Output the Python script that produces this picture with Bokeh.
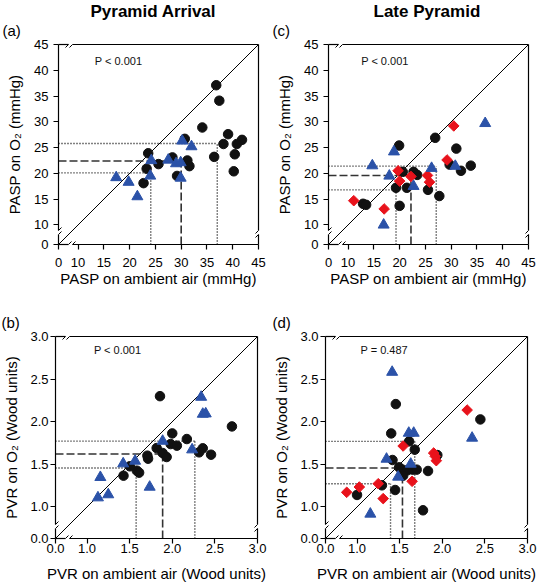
import math
from bokeh.plotting import figure
from bokeh.models import (Range1d, FixedTicker, CustomJSTickFormatter, LinearAxis, Label,
                          Arrow, Title)
from bokeh.layouts import row, column
from bokeh.embed import file_html
from bokeh.resources import INLINE

FONT = "Liberation Sans"

# ---------------- data ----------------
# PASP axes (mmHg): the "0" tick sits at the start of the broken axis
pasp_lo, pasp_hi = 6.2, 45.0
pasp_ticks = [6.2, 10, 15, 20, 25, 30, 35, 40, 45]
pvr_lo, pvr_hi = 0.63, 3.0
pvr_ticks = [0.63, 1.0, 1.5, 2.0, 2.5, 3.0]

# (a) Pyramid Arrival, PASP
a_circ_x = [36.8, 37.4, 34.1, 39.1, 30.7, 41.8, 38.2, 40.8, 23.6, 40.4, 36.4, 28.3, 31.2, 25.6, 31.6, 23.3, 40.2, 29.2, 22.7]
a_circ_y = [37.1, 34.1, 28.9, 27.6, 26.7, 26.5, 25.7, 25.7, 23.9, 23.7, 23.2, 23.1, 22.5, 21.8, 21.4, 20.9, 20.4, 19.5, 18.1]
a_tri_x = [17.4, 19.8, 21.5, 24.0, 24.2, 27.5, 29.0, 29.9, 29.9, 30.2, 32.0]
a_tri_y = [19.2, 18.3, 15.5, 19.5, 22.5, 22.6, 21.9, 22.1, 19.1, 26.3, 25.2]
a_dia_x, a_dia_y = [], []
a_med = (30.0, 22.4)
a_q1 = (24.1, 20.1)
a_q3 = (37.0, 25.8)

# (c) Late Pyramid, PASP
c_circ_x = [26.9, 19.9, 31.0, 29.7, 33.8, 31.9, 20.6, 22.7, 23.4, 19.3, 21.4, 25.5, 27.7, 12.9, 13.5, 20.0]
c_circ_y = [26.9, 25.4, 24.8, 21.7, 21.5, 20.5, 20.3, 20.3, 19.7, 17.2, 17.2, 16.8, 15.6, 14.1, 13.9, 13.7]
c_dia_x = [30.5, 29.2, 19.7, 20.0, 22.2, 25.4, 25.8, 11.1, 17.0]
c_dia_y = [29.2, 22.6, 20.5, 18.5, 19.4, 19.6, 18.3, 14.7, 13.1]
c_tri_x = [36.6, 18.9, 14.7, 18.0, 26.2, 30.8, 22.7, 16.9]
c_tri_y = [29.7, 24.2, 21.5, 19.5, 21.0, 21.4, 17.5, 10.0]
c_med = (22.2, 19.6)
c_q1 = (19.3, 16.8)
c_q3 = (27.1, 21.4)

# (b) Pyramid Arrival, PVR
b_circ_x = [1.856, 2.700, 2.000, 2.171, 1.817, 1.981, 2.054, 2.358, 2.315, 2.455, 1.887, 1.934, 1.708, 1.716, 1.584, 1.611, 1.502, 1.428]
b_circ_y = [2.300, 1.945, 1.863, 1.797, 1.691, 1.738, 1.719, 1.688, 1.641, 1.613, 1.633, 1.586, 1.602, 1.566, 1.426, 1.402, 1.477, 1.367]
b_tri_x = [2.339, 2.358, 2.393, 1.887, 2.233, 1.564, 1.424, 1.156, 1.249, 1.128, 1.735]
b_tri_y = [2.289, 2.090, 2.094, 1.773, 1.672, 1.539, 1.508, 1.348, 1.145, 1.109, 1.234]
b_dia_x, b_dia_y = [], []
b_med = (1.887, 1.621)
b_q1 = (1.576, 1.457)
b_q3 = (2.265, 1.773)

# (d) Late Pyramid, PVR
d_circ_x = [1.455, 2.447, 1.401, 1.611, 1.677, 1.416, 1.494, 1.533, 1.591, 1.654, 1.700, 1.833, 1.292, 1.000, 1.447, 1.774, 1.942, 1.541]
d_circ_y = [2.207, 2.027, 1.863, 1.770, 1.672, 1.551, 1.465, 1.438, 1.430, 1.438, 1.438, 1.422, 1.254, 1.141, 1.199, 0.961, 1.609, 1.367]
d_dia_x = [2.292, 1.541, 1.899, 1.918, 1.930, 1.646, 1.249, 1.027, 0.879, 1.307]
d_dia_y = [2.137, 1.715, 1.633, 1.594, 1.543, 1.301, 1.273, 1.234, 1.172, 1.098]
d_tri_x = [1.412, 1.607, 1.665, 2.350, 1.346, 1.630, 1.482, 1.156]
d_tri_y = [2.582, 1.867, 1.867, 1.809, 1.5625, 1.504, 1.352, 0.918]
d_med = (1.533, 1.457)
d_q1 = (1.393, 1.273)
d_q3 = (1.677, 1.770)

BLACK = "#111111"
BLUE = "#2b52a8"
RED = "#e8121b"
BRK = 12.0   # px from corner where the axis break sits
GAP = 2.0    # half gap, px


def line_axis(b0, b1):
    return LinearAxis(bounds=(b0, b1), ticker=FixedTicker(ticks=[]),
                      axis_line_color="black", axis_line_width=1.2,
                      major_tick_out=0, major_tick_in=0, minor_tick_out=0, minor_tick_in=0,
                      major_label_text_color=None, major_label_standoff=0)


def diag(p, x0, y0, x1, y1):
    p.add_layout(Arrow(end=None, x_start=x0, y_start=y0, x_end=x1, y_end=y1,
                       line_color="black", line_width=1, level="overlay"))


def make_title(text, offset, size, style, standoff, valign):
    kw = dict(text=text, align="left", offset=offset, vertical_align=valign,
              text_font=FONT, text_font_size=size, text_font_style=style, text_color="black")
    try:
        return Title(standoff=standoff, **kw)
    except ValueError:
        return Title(standoff=0, **kw)


def panel(lo, hi, ticks, fmt, xlabel, ylabel, cx, cy, tx, ty, dx, dy, med, q1, q3,
          ptext, ptxy, tag, tag_off, title, title_off, B, borders, std):
    bl, br, bt, bb = borders
    p = figure(frame_width=B, frame_height=B, x_range=Range1d(lo, hi), y_range=Range1d(lo, hi),
               output_backend="svg", toolbar_location=None, tools="",
               x_axis_location=None, y_axis_location=None,
               min_border_left=bl, min_border_right=br, min_border_top=bt, min_border_bottom=bb)
    p.outline_line_color = None
    p.grid.visible = False
    p.background_fill_color = "white"
    p.border_fill_color = "white"
    k = (hi - lo) / B
    c = lo + BRK * k
    g = GAP * k

    # frame edges with a gap at the axis break (drawn as axis lines only)
    for side in ("left", "below", "right", "above"):
        p.add_layout(line_axis(lo, c - g), side)
        p.add_layout(line_axis(c + g, hi), side)

    xls, xas, yls, yas = std
    for side, ls, als, lab in (("below", xls, xas, xlabel), ("left", yls, yas, ylabel)):
        ax = LinearAxis(ticker=FixedTicker(ticks=ticks), formatter=CustomJSTickFormatter(code=fmt))
        ax.axis_label = lab
        ax.axis_label_text_font = FONT
        ax.axis_label_text_font_size = "15px"
        ax.axis_label_text_font_style = "normal"
        ax.axis_label_text_color = "black"
        ax.axis_label_standoff = als
        ax.major_label_text_font = FONT
        ax.major_label_text_font_size = "13px"
        ax.major_label_text_color = "black"
        ax.major_label_standoff = ls
        ax.major_tick_in = 0
        ax.major_tick_out = 5
        ax.major_tick_line_width = 1.2
        ax.minor_tick_line_color = None
        ax.axis_line_color = None
        p.add_layout(ax, side)

    # break marks "//"
    for edge in (lo, hi):
        for d in (-GAP, GAP):
            diag(p, c + (d - 3) * k, edge - 3 * k, c + (d + 3) * k, edge + 3 * k)
            diag(p, edge - 3 * k, c + (d - 3) * k, edge + 3 * k, c + (d + 3) * k)

    # titles and panel tags
    p.add_layout(make_title(tag, tag_off, "15px", "normal", 8, "top"), "above")
    if title:
        p.add_layout(make_title(title, title_off, "17px", "bold", -6.5, "bottom"), "above")

    # identity line
    p.line([lo, hi], [lo, hi], line_color="black", line_width=1)
    # quartile (dotted) and median (dashed) guides
    for (gx, gy), dash, col, w in ((q1, "1 2", "black", 1.4), (q3, "1 2", "black", 1.4),
                                   (med, "8 3", "#333333", 1.6)):
        p.segment(x0=[lo, gx], y0=[gy, lo], x1=[gx, gx], y1=[gy, gy],
                  line_color=col, line_width=w, line_dash=dash)

    p.scatter(cx, cy, marker="circle", size=9.5, fill_color=BLACK, line_color=BLACK)
    if dx:
        p.scatter(dx, dy, marker="square", angle=math.pi / 4, size=7.5, fill_color=RED, line_color=RED)
    p.scatter(tx, ty, marker="triangle", size=11, fill_color=BLUE, line_color=BLUE)

    p.add_layout(Label(x=lo + ptxy[0] * k, y=hi - ptxy[1] * k, text=ptext,
                       text_font=FONT, text_font_size="11px", text_color="#111111",
                       text_align="left", text_baseline="middle"))
    return p


fmt_pasp = 'return tick < 9 ? "0" : tick.toFixed(0);'
fmt_pvr = 'return tick < 0.9 ? "0.0" : tick.toFixed(1);'

top_b = (58, 12, 44, 48)
bot_b = (55, 13, 44, 46)
top_std = (8, 0, 5, 8)
bot_std = (0, 9, 2, 7)

pa = panel(pasp_lo, pasp_hi, pasp_ticks, fmt_pasp, "PASP on ambient air (mmHg)", "PASP on O\u2082 (mmHg)",
           a_circ_x, a_circ_y, a_tri_x, a_tri_y, a_dia_x, a_dia_y, a_med, a_q1, a_q3,
           "P < 0.001", (36.3, 16), "(a)", -56, "Pyramid Arrival", 32, 200, top_b, top_std)
pc = panel(pasp_lo, pasp_hi, pasp_ticks, fmt_pasp, "PASP on ambient air (mmHg)", "PASP on O\u2082 (mmHg)",
           c_circ_x, c_circ_y, c_tri_x, c_tri_y, c_dia_x, c_dia_y, c_med, c_q1, c_q3,
           "P < 0.001", (32.7, 16), "(c)", -56, "Late Pyramid", 45, 200, top_b, top_std)
pb = panel(pvr_lo, pvr_hi, pvr_ticks, fmt_pvr, "PVR on ambient air (Wood units)", "PVR on O\u2082 (Wood units)",
           b_circ_x, b_circ_y, b_tri_x, b_tri_y, b_dia_x, b_dia_y, b_med, b_q1, b_q3,
           "P < 0.001", (38.4, 13.5), "(b)", -54, None, 0, 202, bot_b, bot_std)
pd_ = panel(pvr_lo, pvr_hi, pvr_ticks, fmt_pvr, "PVR on ambient air (Wood units)", "PVR on O\u2082 (Wood units)",
            d_circ_x, d_circ_y, d_tri_x, d_tri_y, d_dia_x, d_dia_y, d_med, d_q1, d_q3,
            "P = 0.487", (35, 13.9), "(d)", -53, None, 0, 202, bot_b, bot_std)

layout = column(row(pa, pc), row(pb, pd_))
open("out.html", "w").write(file_html(layout, INLINE))
